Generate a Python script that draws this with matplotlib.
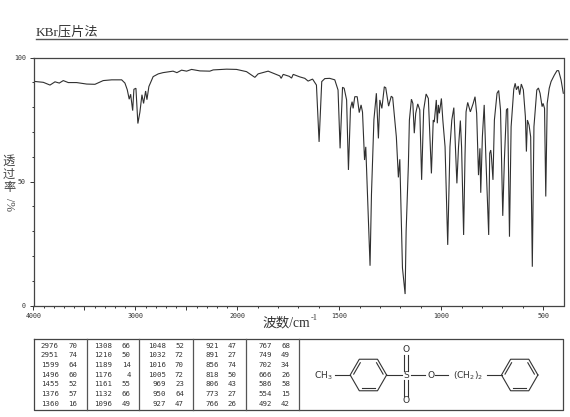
import numpy as np
import matplotlib
matplotlib.use("Agg")
import matplotlib.pyplot as plt
from matplotlib.ticker import FixedLocator, FixedFormatter, NullFormatter

TITLE = "KBr压片法"
YLABEL_CHARS = ["透", "过", "率"]
XLABEL = "波数/cm"
wavenumber = [4000,3904,3838,3789,3747,3708,3659,3577,3478,3397,3316,3233,3135,3103,3080,3061,3047,3027,3015,2995,
 2976,2956,2936,2920,2900,2887,2868,2826,2776,2729,2631,2593,2547,2498,2449,2367,2270,2237,2106,2008,
 1955,1914,1898,1849,1792,1785,1775,1745,1734,1726,1694,1669,1653,1631,1612,1599,1586,1571,1547,1522,
 1506,1496,1484,1476,1464,1455,1445,1437,1432,1424,1412,1402,1393,1386,1376,1370,1349,1342,1330,1318,
 1308,1301,1291,1279,1272,1258,1245,1238,1220,1210,1203,1190,1177,1172,1166,1161,1156,1146,1139,1132,
 1125,1115,1105,1096,1086,1074,1063,1048,1039,1034,1024,1019,1014,1009,999,992,981,968,957,948,
 938,930,923,915,906,900,890,883,878,870,857,843,834,826,817,810,806,798,789,781,
 767,762,757,754,746,739,726,718,709,698,690,680,674,665,657,644,637,631,622,615,
 607,597,587,582,577,569,561,553,545,531,523,515,505,500,493,487,480,470,461,445,
 432,424,412,401]
transmittance = [90.4,90.0,88.9,90.2,89.7,90.7,89.9,89.9,89.3,89.2,90.7,91.0,91.0,89.7,87.0,83.2,85.2,78.6,87.2,87.6,
 73.4,78.0,85.0,81.5,86.5,83.0,88.3,92.3,93.4,93.9,94.5,93.9,94.9,94.5,95.2,94.6,94.5,95.0,95.3,95.2,
 94.3,92.0,93.4,94.5,92.6,91.6,93.2,92.4,91.7,93.2,92.2,91.6,90.5,91.3,88.9,66.0,90.3,91.5,91.6,91.0,
 86.9,63.4,88.0,87.6,82.9,54.7,79.5,82.2,79.5,84.2,84.2,77.8,80.9,78.0,58.7,64.0,16.1,45.0,75.0,85.6,
 67.4,82.9,79.5,88.2,87.8,80.4,84.4,83.9,68.0,51.7,59.0,15.2,4.7,30.0,45.3,56.7,74.8,83.2,81.5,69.5,
 77.5,81.3,78.9,50.7,78.9,85.3,83.5,53.3,74.8,74.0,82.9,73.5,80.9,77.5,83.5,74.8,64.0,24.5,64.0,74.8,
 79.8,64.0,49.3,64.0,74.6,63.9,28.5,61.0,78.1,81.9,78.1,81.5,84.2,77.5,52.6,63.4,45.5,68.0,80.9,60.0,
 28.5,61.4,62.7,60.7,50.7,74.8,85.6,86.7,78.9,36.2,58.7,78.9,79.5,27.8,72.1,87.2,89.6,87.0,88.5,85.0,
 89.3,87.0,76.2,62.1,74.8,72.8,68.0,15.7,72.1,86.9,87.7,85.6,80.2,81.5,79.5,44.0,81.5,87.6,90.3,92.9,
 94.7,94.7,91.0,85.6]

table_wn = [["2976","2951","1599","1496","1455","1376","1360"],
            ["1308","1210","1189","1176","1161","1132","1096"],
            ["1048","1032","1016","1005","969","950","927"],
            ["921","891","856","818","806","773","766"],
            ["767","749","702","666","586","554","492"]]
table_t = [["70","74","64","60","52","57","16"],
           ["66","50","14","4","55","66","49"],
           ["52","72","70","72","23","64","47"],
           ["47","27","74","50","43","27","26"],
           ["68","49","34","26","58","15","42"]]
major_x = [4000,3500,3000,2500,2000,1500,1000,500]
minor_x = [w for w in range(3900,400,-100) if w not in major_x]
label_x = {4000:"4000",3000:"3000",2000:"2000",1500:"1500",1000:"1000",500:"500"}

W, H = 570, 417
INK = "#333333"
CJK = ["Liberation Serif", "Noto Sans CJK SC", "DejaVu Sans"]
fig = plt.figure(figsize=(W/100, H/100), dpi=100, facecolor="white")

# Spectrum axes: above 2000 cm-1 the scale is compressed by two
L, R, T, B = 33.5, 563.5, 57.5, 305.7
ax = fig.add_axes([L/W, (H-B)/H, (R-L)/W, (B-T)/H])

def fwd(w):
    w = np.asarray(w, float)
    return np.where(w > 2000, 2000+(w-2000)*0.5, w)
def inv(f):
    f = np.asarray(f, float)
    return np.where(f > 2000, 2000+(f-2000)*2, f)
ax.set_xscale("function", functions=(fwd, inv))
ax.set_xlim(4000, 400)
ax.set_ylim(0, 100)
ax.plot(wavenumber, transmittance, color="#303030", lw=0.8, solid_joinstyle="miter")

ax.xaxis.set_major_locator(FixedLocator(major_x))
ax.xaxis.set_minor_locator(FixedLocator(minor_x))
ax.xaxis.set_major_formatter(FixedFormatter([label_x.get(w, "") for w in major_x]))
ax.xaxis.set_minor_formatter(NullFormatter())
ax.yaxis.set_major_locator(FixedLocator([0,50,100]))
ax.yaxis.set_minor_locator(FixedLocator([10,20,30,40,60,70,80,90]))
ax.yaxis.set_major_formatter(FixedFormatter(["0","50","100"]))
ax.yaxis.set_minor_formatter(NullFormatter())
ax.tick_params(which="major", length=3, width=0.7, color=INK, labelsize=4.8, labelcolor=INK, pad=2.5)
ax.tick_params(which="minor", length=1.5, width=0.7, color=INK)
for s in ax.spines.values():
    s.set_linewidth(0.9); s.set_color("#444444")
for lab in ax.get_xticklabels()+ax.get_yticklabels():
    lab.set_family("DejaVu Sans Mono")

# Overlay in pixel coordinates for annotation and table
ov = fig.add_axes([0,0,1,1], zorder=5)
ov.set_xlim(0,W); ov.set_ylim(H,0); ov.axis("off"); ov.patch.set_alpha(0)

ov.text(36, 32, TITLE, family=CJK, fontsize=9.5, color="#333333", va="center", ha="left")
ov.plot([36,567],[39,39], color="#555555", lw=1.0)

for ch, y in zip(YLABEL_CHARS, [162,175,188]):
    ov.text(9, y, ch, family=CJK, fontsize=8.8, color="#444444", ha="center", va="center")
ov.text(9, 204, "/%", family=CJK, fontsize=8.5, color="#444444", ha="center", va="center", rotation=-90)

ov.text(262, 323, XLABEL, family=CJK, fontsize=9.8, color="#333333", ha="left", va="center")
ov.text(311, 318, "-1", family="Liberation Serif", fontsize=6, color="#333333", ha="left", va="center")

# Table
tx0, tx1, ty0, ty1 = 33.7, 563.3, 339, 410
ov.plot([tx0,tx1,tx1,tx0,tx0],[ty0,ty0,ty1,ty1,ty0], color="#444444", lw=0.9)
for x in [86.7,139.3,192.7,245.7,298.6]:
    ov.plot([x,x],[ty0,ty1], color="#555555", lw=0.9)
wn_right = [58.7,112.3,165.7,218.7,271.7]
t_right = [77.3,130.7,184.0,236.7,290.0]
rows = [345.7,355.3,365.0,374.7,384.3,394.0,403.7]
for c in range(5):
    for r, y in enumerate(rows):
        ov.text(wn_right[c], y, table_wn[c][r], family="DejaVu Sans Mono", fontsize=5.3, color=INK, ha="right", va="center")
        ov.text(t_right[c], y, table_t[c][r], family="DejaVu Sans Mono", fontsize=5.3, color=INK, ha="right", va="center")

# Structure
def ring(cx, cy, r=18.2):
    a = np.radians(np.arange(0,361,60))
    xs, ys = cx+r*np.cos(a), cy+r*np.sin(a)
    ov.plot(xs, ys, color=INK, lw=0.8)
    for i in [1,3,5]:
        mx, my = (xs[i]+xs[i+1])/2, (ys[i]+ys[i+1])/2
        dx, dy = cx-mx, cy-my
        d = np.hypot(dx,dy); dx, dy = dx/d*2.6, dy/d*2.6
        ov.plot([xs[i]+(xs[i+1]-xs[i])*.14+dx, xs[i+1]-(xs[i+1]-xs[i])*.14+dx],
                [ys[i]+(ys[i+1]-ys[i])*.14+dy, ys[i+1]-(ys[i+1]-ys[i])*.14+dy], color=INK, lw=0.8)
ring(368.4, 375); ring(519.7, 375)
for seg in [((335,350),(375,375)),((386.7,401.7),(375,375)),((410.7,425),(375,375)),
            ((435.3,448),(375,375)),((486.7,501.7),(375,375)),
            ((404.4,404.4),(355,371)),((408.4,408.4),(355,371)),
            ((404.4,404.4),(380,396)),((408.4,408.4),(380,396))]:
    ov.plot(seg[0], seg[1], color=INK, lw=0.8)
fs = 6.6
for x,y,s in [(406.5,375.5,"S"),(406.5,350,"O"),(406.5,400.7,"O"),(430.7,375.5,"O")]:
    ov.text(x,y,s,family="DejaVu Sans",fontsize=fs,color=INK,ha="center",va="center")
ov.text(323.5,376,"CH$_3$",family="DejaVu Sans",fontsize=fs,color=INK,ha="center",va="center")
ov.text(468,376,"(CH$_2$)$_2$",family="DejaVu Sans",fontsize=fs,color=INK,ha="center",va="center")

fig.savefig("out.png", dpi=100, facecolor="white")
